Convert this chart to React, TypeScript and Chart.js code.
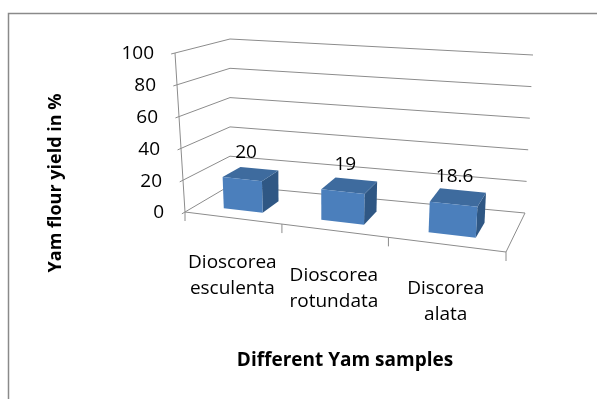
import React, { useEffect, useRef } from "react";
import { Chart, registerables } from "chart.js";

Chart.register(...registerables);

// ---- data ----
const categories: string[][] = [
  ["Dioscorea", "esculenta"],
  ["Dioscorea", "rotundata"],
  ["Discorea", "alata"],
];
const yieldValues: number[] = [20, 19, 18.6];
const valueLabels: string[] = ["20", "19", "18.6"];
const yMin = 0;
const yMax = 100;
const yStep = 20;
const yAxisTitle = "Yam flour yield in %";
const xAxisTitle = "Different Yam samples";

// ---- 3D box geometry (screen corners of the plot box) ----
type Pt = [number, number];
const FL0: Pt = [185, 212];
const FL1: Pt = [175, 53];
const BL0: Pt = [230, 185.5];
const BL1: Pt = [230, 39];
const BR0: Pt = [525, 213];
const BR1: Pt = [533, 55];
const FR0: Pt = [506, 252];
const FR1: Pt = [518, 81];
const PERSP_K = 1.156;
const BAR_W_FRONT = 0.26;
const BAR_W_BACK = 0.66;

const FONT_FAMILY = "'Open Sans', 'Liberation Sans', sans-serif";
const GRID_COLOR = "#8c8c8c";
const FRONT_COLOR = "#4b7fbc";
const TOP_COLOR = "#3e6b9e";
const SIDE_COLOR = "#2f5784";

const lerp = (a: number, b: number, t: number) => a + (b - a) * t;
const warp = (u: number) => u / (u + PERSP_K * (1 - u));

function project(u: number, v: number, w: number): Pt {
  const uu = warp(u);
  const c = (p0: Pt, p1: Pt): Pt => [lerp(p0[0], p1[0], v), lerp(p0[1], p1[1], v)];
  const fl = c(FL0, FL1), fr = c(FR0, FR1), bl = c(BL0, BL1), br = c(BR0, BR1);
  const front: Pt = [lerp(fl[0], fr[0], uu), lerp(fl[1], fr[1], uu)];
  const back: Pt = [lerp(bl[0], br[0], uu), lerp(bl[1], br[1], uu)];
  return [lerp(front[0], back[0], w), lerp(front[1], back[1], w)];
}

const threeDPlugin = {
  id: "threeD",
  afterDatasetsDraw(chart: any) {
    const ctx: CanvasRenderingContext2D = chart.ctx;
    const xs = chart.scales.x;
    const ys = chart.scales.y;
    const ca = chart.chartArea;
    const uOf = (px: number) => (px - ca.left) / (ca.right - ca.left);
    const vOf = (val: number) => {
      const p0 = ys.getPixelForValue(yMin);
      const p1 = ys.getPixelForValue(yMax);
      return (p0 - ys.getPixelForValue(val)) / (p0 - p1);
    };

    ctx.save();
    // outer border
    ctx.strokeStyle = "#8a8a8a";
    ctx.lineWidth = 1.5;
    ctx.strokeRect(8.5, 13.5, 620, 420);

    const line = (a: Pt, b: Pt) => {
      ctx.beginPath();
      ctx.moveTo(a[0], a[1]);
      ctx.lineTo(b[0], b[1]);
      ctx.stroke();
    };

    ctx.strokeStyle = GRID_COLOR;
    ctx.lineWidth = 1;
    const ticks = ys.ticks.map((t: any) => t.value);
    ticks.forEach((val: number) => {
      const v = vOf(val);
      line(project(0, v, -0.07), project(0, v, 0));
      line(project(0, v, 0), project(0, v, 1));
      line(project(0, v, 1), project(1, v, 1));
    });
    line(project(0, 0, 0), project(0, 1, 0));
    line(project(0, 0, 0), project(1, 0, 0));
    line(project(1, 0, 0), project(1, 0, 1));
    const n = xs.getLabels().length;
    const catW = xs.getPixelForValue(1) - xs.getPixelForValue(0);
    for (let i = 0; i <= n; i++) {
      const px = xs.getPixelForValue(0) - catW / 2 + i * catW;
      const p = project(uOf(px), 0, 0);
      line(p, [p[0], p[1] + 9]);
    }

    // bars
    const meta = chart.getDatasetMeta(0);
    meta.data.forEach((el: any, i: number) => {
      const uL = uOf(el.x - el.width / 2);
      const uR = uOf(el.x + el.width / 2);
      const vT = vOf(ys.getValueForPixel(el.y));
      const vB = vOf(ys.getValueForPixel(el.base));
      const wF = BAR_W_FRONT, wB = BAR_W_BACK;
      const poly = (pts: Pt[], color: string) => {
        ctx.beginPath();
        ctx.moveTo(pts[0][0], pts[0][1]);
        for (let k = 1; k < pts.length; k++) ctx.lineTo(pts[k][0], pts[k][1]);
        ctx.closePath();
        ctx.fillStyle = color;
        ctx.fill();
      };
      poly([project(uR, vB, wF), project(uR, vB, wB), project(uR, vT, wB), project(uR, vT, wF)], SIDE_COLOR);
      poly([project(uL, vT, wF), project(uR, vT, wF), project(uR, vT, wB), project(uL, vT, wB)], TOP_COLOR);
      poly([project(uL, vB, wF), project(uR, vB, wF), project(uR, vT, wF), project(uL, vT, wF)], FRONT_COLOR);

      const uc = uOf(el.x);
      const lp = project(uc, vT, 0.4);
      ctx.fillStyle = "#000";
      ctx.font = `19px ${FONT_FAMILY}`;
      ctx.textAlign = "center";
      ctx.textBaseline = "middle";
      ctx.fillText(valueLabels[i], lp[0] - 2, lp[1] - 23);
    });

    // y tick labels
    ctx.fillStyle = "#000";
    ctx.font = `19px ${FONT_FAMILY}`;
    ctx.textAlign = "right";
    ctx.textBaseline = "middle";
    ticks.forEach((val: number) => {
      const p = project(0, vOf(val), 0);
      ctx.fillText(String(val), p[0] - 21, p[1] + 1);
    });

    // category labels
    ctx.textAlign = "center";
    ctx.textBaseline = "alphabetic";
    xs.getLabels().forEach((lab: any, i: number) => {
      const p = project(uOf(xs.getPixelForValue(i)), 0, 0);
      const lines: string[] = Array.isArray(lab) ? lab : [lab];
      lines.forEach((t, k) => ctx.fillText(t, p[0], p[1] + 50 + k * 26));
    });

    // axis titles
    ctx.font = `bold 19px ${FONT_FAMILY}`;
    ctx.textBaseline = "middle";
    ctx.fillText(xAxisTitle, 345, 361);
    ctx.font = `bold 18px ${FONT_FAMILY}`;
    ctx.save();
    ctx.translate(56, 183);
    ctx.rotate(-Math.PI / 2);
    ctx.fillText(yAxisTitle, 0, 0);
    ctx.restore();

    ctx.restore();
  },
};

export default function App() {
  const ref = useRef<HTMLCanvasElement | null>(null);
  useEffect(() => {
    if (!ref.current) return;
    const chart = new Chart(ref.current, {
      type: "bar",
      data: {
        labels: categories,
        datasets: [
          {
            data: yieldValues,
            backgroundColor: "rgba(0,0,0,0)",
            borderWidth: 0,
            barPercentage: 0.41,
            categoryPercentage: 1,
          },
        ],
      },
      options: {
        responsive: false,
        animation: false,
        events: [],
        layout: { padding: { left: 180, right: 90, top: 50, bottom: 140 } },
        plugins: { legend: { display: false }, tooltip: { enabled: false } },
        scales: {
          x: { type: "category", display: false, offset: true },
          y: { display: false, min: yMin, max: yMax, ticks: { stepSize: yStep } },
        },
      },
      plugins: [threeDPlugin],
    });
    return () => chart.destroy();
  }, []);
  return (
    <div style={{ position: "fixed", left: 0, top: 0, width: 597, height: 399, background: "#fff" }}>
      <canvas ref={ref} width={597} height={399} />
    </div>
  );
}
